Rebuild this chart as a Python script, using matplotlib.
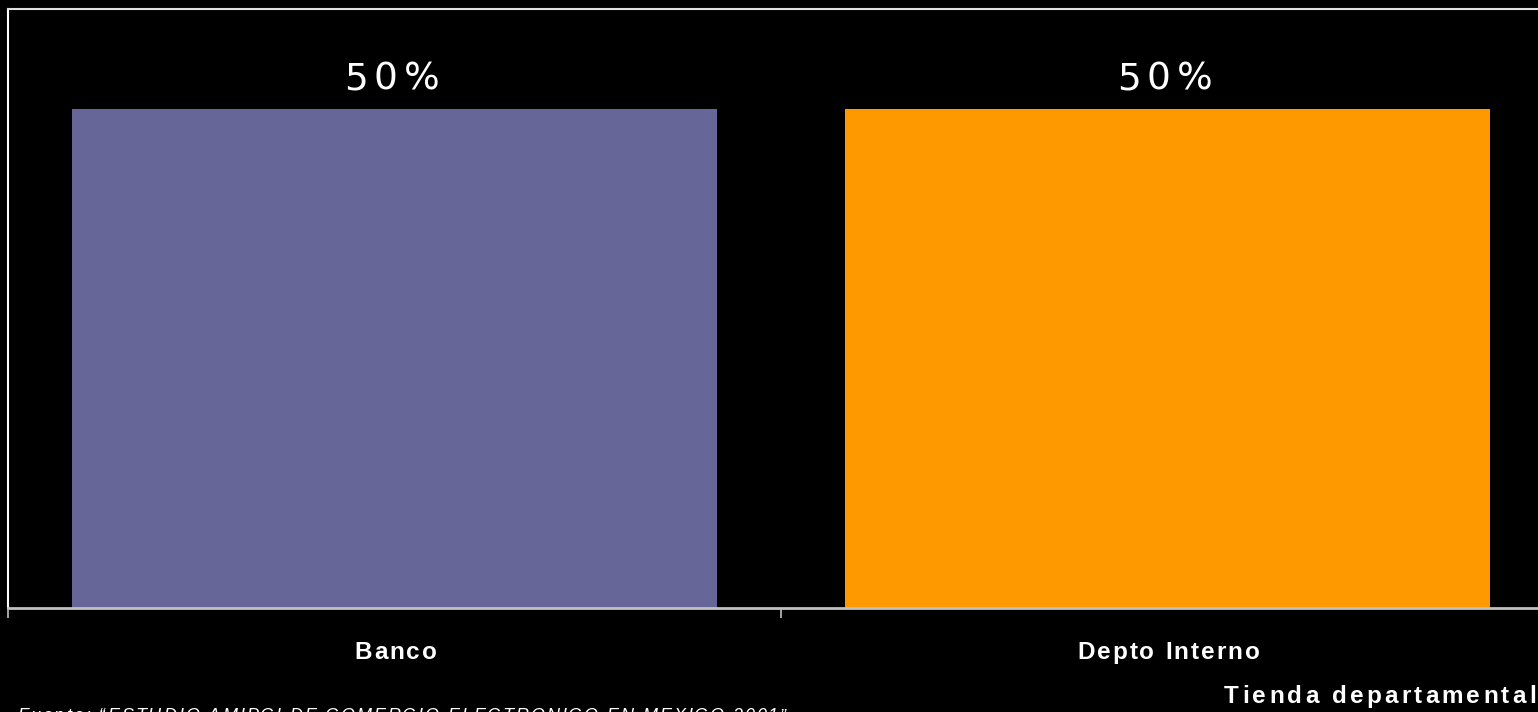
import matplotlib.pyplot as plt
from matplotlib.transforms import IdentityTransform

# encuesta: medio de pago en tienda departamental
categorias = ["Banco", "Depto Interno"]
porcentajes = [50, 50]
colores = ["#666699", "#FF9900"]

titulo_eje = "Tienda departamental"
fuente = "Fuente: \u201cESTUDIO AMIPCI DE COMERCIO ELECTRONICO EN MEXICO 2001\u201d"

W, H = 1538, 712
fig = plt.figure(figsize=(W / 100, H / 100), dpi=100, facecolor="black")
ax = fig.add_axes([8 / W, 1 - 608 / H, 1546 / W, 599 / H], facecolor="black")
renderer = fig.canvas.get_renderer()


def ancho(s, **kw):
    t = fig.text(0, 0, s, **kw)
    w = t.get_window_extent(renderer).width
    t.remove()
    return w


def texto_espaciado(x, y, s, track, ha="center", **kw):
    # texto con espaciado extra entre letras; x, y en pixeles desde arriba-izquierda, y = linea base
    base = ancho("xx", **kw)
    ws = [ancho("x" + c + "x", **kw) - base for c in s]
    total = sum(ws) + track * (len(s) - 1)
    if ha == "center":
        x -= total / 2
    elif ha == "right":
        x -= total
    for c, w in zip(s, ws):
        fig.text(x, H - y, c, ha="left", va="baseline", transform=IdentityTransform(), **kw)
        x += w + track


x = range(len(categorias))
barras = ax.bar(x, porcentajes, width=0.834, color=colores, zorder=2)

ax.set_xlim(-0.5, 1.5)
ax.set_ylim(0, 60)
ax.set_yticks([])
ax.set_xticks([-0.5, 0.5, 1.5])
ax.set_xticklabels([])
ax.tick_params(axis="x", length=7, width=1.2, color="#c0c0c0", direction="out")

ax.spines["left"].set_color("white")
ax.spines["left"].set_linewidth(1.5)
ax.spines["top"].set_color("#e0e0e0")
ax.spines["top"].set_linewidth(1.5)
ax.spines["bottom"].set_color("#c0c0c0")
ax.spines["bottom"].set_linewidth(2)
ax.spines["right"].set_visible(False)

# etiquetas de valor y de categoria
for b, v, cat in zip(barras, porcentajes, categorias):
    cx, top = ax.transData.transform((b.get_x() + b.get_width() / 2, v))
    texto_espaciado(cx - 3, H - top - 19, f"{v}%", 6, color="white", fontsize=27,
                    family="DejaVu Sans")
    texto_espaciado(cx + 1, 659, cat, 2.0, color="white", fontsize=17.5, fontweight="bold",
                    family="Liberation Sans")

texto_espaciado(1536, 703, titulo_eje, 3.2, ha="right", color="white", fontsize=17.5,
                fontweight="bold", family="Liberation Sans")
texto_espaciado(17, 721, fuente, 2.0, ha="left", color="white", fontsize=13,
                style="italic", family="Liberation Sans")

fig.savefig("out.png", dpi=100, facecolor="black")
